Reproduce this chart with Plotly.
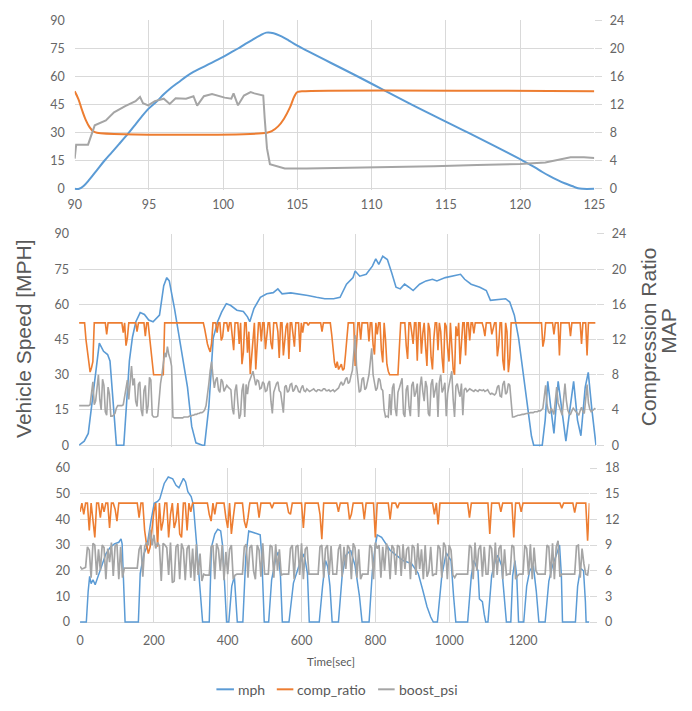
import numpy as np
import plotly.graph_objects as go

W, H = 692, 711

BLUE = "#5b9bd5"
ORANGE = "#ed7d31"
GRAY = "#a5a5a5"
GRID = "#d9d9d9"
TICK = "#666666"
TITLE = "#595959"
TICK_FONT = dict(family="Lato", size=12.5, color=TICK)

# ---------------- top panel: 90-125 s ----------------
top_mph_t = [90, 90.3, 90.6, 91, 91.5, 92, 92.5, 93, 93.65, 94, 94.5, 95, 95.5, 96, 96.5,
             97, 97.5, 98, 98.5, 99, 99.5, 100, 100.5, 101, 101.5, 102, 102.5, 102.9,
             103.4, 103.9, 104.4, 105, 109, 112.7, 116.5, 120.2, 121, 121.5, 122, 122.5,
             123, 123.5, 123.9, 124.2, 125]
top_mph = [0, 0, 1.5, 5, 10, 15, 19.5, 24, 30, 33.5, 38.5, 43, 46.5, 50.5, 54,
           57, 60, 62.5, 64.5, 66.5, 68.5, 70.5, 72.8, 75, 77.5, 79.8, 82, 83.5,
           83.2, 81.6, 79.4, 76.5, 60.3, 45, 30, 15, 11.5, 9, 6.8, 4.8,
           3, 1.5, 0.3, 0, 0]

top_comp_t = [90, 90.25, 90.5, 90.75, 91, 91.25, 91.5, 102.95, 103.3, 103.7, 104.1,
              104.5, 104.8, 105, 105.3, 125]
top_comp = [13.9, 12.8, 11.2, 9.8, 8.8, 8.2, 8.0, 8.0, 8.25, 8.9, 10.0,
            11.6, 13.2, 13.8, 13.9, 13.9]

top_boost_t = [90, 90.1, 90.9, 91.35, 92.1, 92.65, 93.4, 94.1, 94.4, 94.6, 94.95, 95.4,
               96, 96.4, 96.8, 97.5, 98, 98.25, 98.7, 99.25, 100.1, 100.55, 100.7, 101,
               101.4, 101.85, 102.1, 102.7, 102.8, 102.95, 103.15, 103.6, 104.15, 105.6,
               109.9, 111.3, 114.2, 117.1, 120, 121.7, 122.9, 123.4, 124.3, 125]
top_boost = [4.3, 6.3, 6.3, 9.05, 9.75, 10.9, 11.8, 12.5, 13.1, 12.2, 11.9, 12.5,
             12.85, 12.1, 12.9, 12.85, 13.2, 11.85, 13.2, 13.5, 13.0, 12.85, 13.6, 11.9,
             13.3, 13.8, 13.6, 13.3, 10.0, 5.8, 3.5, 3.25, 2.9, 2.9,
             3.0, 3.1, 3.2, 3.4, 3.55, 3.75, 4.3, 4.5, 4.5, 4.4]

# ---------------- middle panel: 0-562 s ----------------
mid_mph_t = [0, 5.6, 10, 16, 22, 26.6, 31, 33.6, 36, 39, 40.6, 48.6, 51, 54.7, 58, 61.7,
             66.4, 71, 75.7, 80.4, 87.4, 92, 95.3, 98, 103.7, 110.7, 117.8, 122.4, 127,
             134, 136.4, 141, 145.8, 150.5, 155, 160, 164.5, 171.5, 178.5, 183, 185.5,
             190, 197, 204, 211, 216, 220.6, 230, 239, 248.6, 258, 267, 276.6, 283.6,
             290.6, 297.7, 300, 305, 312, 318.7, 322.4, 325.7, 330, 335, 339.7, 344.4,
             349, 353.7, 358.4, 363, 370, 377, 384, 388.8, 398, 407.5, 414.5, 419, 426,
             435.5, 442.5, 447, 454, 463.5, 468, 473, 477.6, 482, 487, 491.6, 494, 503.3,
             506.5, 509.3, 512.6, 516, 520.6, 524.3, 529, 533.6, 537.4, 541.6, 545.3,
             550, 553.3, 557, 561.7]
mid_mph = [0, 1.7, 5, 25, 43.5, 40, 38.6, 35.9, 24.7, 8, 0, 0, 15, 36, 46, 52.6,
           56.5, 55.7, 53.3, 52.6, 55.4, 68, 71.4, 70, 58.2, 41.4, 24.7, 8, 1,
           0, 0, 16.3, 45.6, 52.6, 56.8, 60.3, 59.6, 57.5, 57, 54.7, 52.6,
           58.2, 63, 64.5, 65, 66.6, 64.5, 64.9, 64.5, 63.8, 63, 62.4, 62.4, 63,
           68.6, 71.4, 74.2, 72, 72.8, 76.3, 79.4, 77, 80.5, 79.1, 73.5, 67.3,
           66.6, 68.6, 67.3, 65.9, 68.6, 70, 70.7, 70, 71.4, 72.1, 72.8, 70.7, 68.6,
           67.3, 65.9, 61.7, 62.1, 62.4, 61, 55.4, 45.6, 31.7, 16.3, 3.8, 0, 0,
           10.7, 27.2, 16, 5, 27.2, 16, 1.7, 16, 27.2, 10.7, 4,
           24.7, 31, 16, 0]

MID_STEP = 1.5  # seconds between logged samples
mid_comp = [
    13.9, 13.9, 13.9, 13.9, 13.9, 12.0, 10.5, 9.0, 8.3, 8.8, 9.5, 13.9, 13.9, 13.9, 13.9, 13.9, 13.9, 13.9, 13.9, 13.9,       # 0
    12.6, 13.9, 13.9, 13.9, 13.9, 13.9, 13.9, 13.9, 13.9, 13.9, 13.9, 13.9, 12.8, 13.9, 11.3, 12.2, 13.9, 13.9, 13.9, 13.9,  # 30
    13.9, 13.9, 12.9, 13.9, 13.9, 13.9, 13.9, 13.9, 12.4, 13.9, 13.9, 12.2, 10.8, 9.0, 8.0, 8.0, 8.0, 8.0, 8.0, 8.0,         # 60
    8.0, 8.0, 13.9, 13.9, 13.9, 13.9, 13.9, 13.9, 13.9, 13.9, 13.9, 13.9, 13.9, 13.9, 13.9, 13.9, 13.9, 13.9, 13.9, 13.9,    # 90
    13.9, 13.9, 13.9, 13.9, 13.9, 13.9, 13.9, 13.9, 13.9, 13.9, 13.9, 13.2, 12.2, 11.5, 11.0, 10.6, 11.6, 13.9, 13.9, 13.9,  # 120
    12.8, 13.9, 13.9, 11.9, 12.3, 13.9, 13.9, 13.9, 12.9, 13.9, 13.9, 12.4, 10.8, 13.9, 13.9, 13.9, 11.5, 13.9, 9.2, 10.5,   # 150
    13.9, 13.9, 10.5, 12.9, 8.1, 9.8, 12.0, 13.9, 8.6, 11.0, 13.9, 13.9, 11.8, 13.9, 13.9, 10.9, 12.5, 13.9, 13.9, 11.6,     # 180
    10.9, 13.9, 13.9, 13.9, 12.9, 9.9, 13.9, 13.9, 10.2, 12.1, 13.5, 13.9, 9.8, 13.9, 13.9, 12.6, 11.2, 13.9, 13.9, 13.9,    # 210
    10.6, 13.9, 12.8, 13.9, 13.9, 13.9, 13.6, 13.9, 13.9, 13.9, 13.9, 13.9, 13.9, 13.9, 13.9, 13.9, 12.9, 13.9, 13.9, 13.9,  # 240
    13.9, 13.9, 13.9, 12.6, 11.0, 9.4, 8.8, 9.5, 8.6, 8.9, 9.2, 8.5, 8.7, 10.3, 12.5, 13.9, 13.9, 13.9, 13.9, 13.9,          # 270
    9.0, 12.2, 13.9, 13.9, 12.0, 13.9, 13.9, 13.9, 13.9, 13.9, 11.8, 13.9, 13.9, 11.4, 10.3, 13.9, 12.6, 13.9, 13.9, 10.8,   # 300
    9.4, 13.9, 12.0, 9.2, 8.4, 8.0, 8.0, 8.0, 8.0, 8.0, 8.0, 8.0, 11.0, 13.9, 13.9, 13.9, 13.9, 11.3, 9.8, 13.9,             # 330
    13.9, 12.8, 11.5, 13.9, 13.9, 9.6, 13.9, 13.9, 10.4, 12.7, 13.9, 11.2, 9.0, 13.9, 13.2, 10.0, 8.6, 12.1, 13.9, 13.9,     # 360
    10.8, 13.9, 12.9, 9.9, 8.2, 13.9, 13.5, 11.0, 9.5, 13.9, 11.8, 8.6, 8.0, 13.5, 12.4, 13.9, 9.2, 11.9, 13.9, 13.9,        # 390
    10.2, 13.9, 13.9, 11.9, 13.9, 13.9, 12.7, 13.9, 13.9, 13.9, 13.9, 13.9, 13.9, 13.3, 12.4, 13.9, 13.9, 13.9, 13.9, 12.6,  # 420
    13.2, 13.9, 13.9, 10.1, 11.3, 13.9, 13.9, 9.6, 8.5, 13.9, 12.9, 8.3, 9.8, 13.9, 13.9, 13.9, 13.9, 13.9, 13.9, 13.9,      # 450
    13.9, 13.9, 13.9, 13.9, 13.9, 13.9, 13.9, 13.9, 13.9, 13.9, 13.9, 13.9, 13.9, 13.9, 13.9, 13.9, 11.2, 12.0, 13.9, 13.9,  # 480
    13.9, 13.9, 13.9, 13.9, 12.6, 13.9, 13.9, 13.9, 10.2, 13.9, 13.9, 13.9, 13.9, 13.9, 13.9, 13.9, 12.4, 13.9, 13.9, 13.9,  # 510
    13.9, 13.9, 13.9, 13.9, 11.5, 13.9, 13.9, 13.9, 10.2, 13.9, 13.9, 13.9, 13.9, 13.9, 13.9,                                # 540
]
mid_boost = [
    4.5, 4.5, 4.5, 4.5, 4.5, 4.5, 4.5, 4.5, 4.6, 5.8, 7.2, 4.6, 5.0, 6.5, 8.0, 5.2, 4.0, 7.5, 6.8, 3.8,     # 0
    3.4, 6.6, 5.8, 3.3, 3.3, 3.4, 3.6, 4.2, 4.5, 4.5, 4.5, 4.5, 4.6, 5.5, 6.5, 7.4, 5.2, 7.8, 9.0, 6.8,     # 30
    7.6, 5.0, 4.4, 6.9, 7.2, 4.0, 3.3, 6.2, 6.8, 3.6, 4.5, 7.7, 7.4, 3.4, 3.2, 3.2, 3.2, 3.3, 5.5, 7.0,     # 60
    8.0, 9.4, 10.5, 10.0, 11.2, 10.3, 9.8, 9.0, 3.2, 3.1, 3.1, 3.1, 3.1, 3.1, 3.1, 3.1, 3.2, 3.2, 3.2, 3.2, # 90
    3.3, 3.3, 3.4, 3.4, 3.5, 3.5, 3.6, 3.6, 3.7, 3.7, 3.8, 4.0, 4.5, 5.6, 7.0, 8.5, 9.5, 7.8, 6.5, 7.4,     # 120
    7.7, 6.3, 6.0, 7.5, 7.2, 6.1, 6.5, 6.8, 6.6, 6.4, 6.3, 4.2, 3.5, 6.2, 6.9, 4.8, 3.0, 3.5, 6.2, 7.0,     # 150
    3.2, 6.9, 5.8, 7.1, 7.5, 8.0, 8.4, 7.6, 6.8, 7.4, 7.3, 6.4, 6.5, 7.2, 7.0, 6.1, 6.2, 7.0, 7.3, 5.0,     # 180
    3.6, 6.0, 6.5, 7.0, 7.2, 6.2, 6.0, 4.5, 3.7, 6.6, 6.8, 6.0, 6.2, 6.9, 7.0, 6.1, 6.3, 6.8, 6.6, 6.1,     # 210
    6.0, 6.5, 6.8, 6.2, 6.1, 6.4, 6.3, 6.1, 6.2, 6.3, 6.4, 6.2, 6.1, 6.3, 6.3, 6.2, 6.2, 6.4, 6.4, 6.2,     # 240
    6.2, 6.3, 6.1, 6.2, 6.3, 6.1, 6.2, 6.4, 6.5, 6.9, 7.2, 6.8, 7.0, 7.5, 7.7, 7.0, 7.2, 7.9, 8.5, 10.5,    # 270
    12.5, 9.0, 7.0, 6.0, 6.2, 7.5, 7.7, 6.3, 6.5, 7.2, 8.0, 9.5, 11.0, 8.0, 7.2, 6.2, 6.5, 7.6, 7.4, 6.4,   # 300
    6.2, 4.0, 3.2, 3.3, 3.2, 5.8, 3.4, 6.5, 7.0, 4.2, 3.3, 6.0, 6.5, 7.2, 7.6, 3.6, 3.2, 6.3, 6.8, 4.4,     # 330
    3.3, 6.8, 7.2, 5.5, 6.0, 7.0, 3.2, 6.6, 7.8, 6.1, 5.0, 7.3, 6.6, 3.6, 3.3, 6.9, 7.5, 5.4, 6.2, 7.1,     # 360
    3.2, 7.2, 8.0, 6.0, 6.4, 7.1, 3.3, 5.9, 6.8, 7.6, 8.4, 5.2, 3.2, 6.7, 7.0, 6.1, 5.5, 7.0, 3.4, 6.3,     # 390
    6.5, 6.1, 6.2, 6.4, 6.3, 6.2, 6.1, 6.3, 6.2, 6.1, 6.3, 6.2, 6.2, 6.3, 6.1, 6.2, 6.3, 6.0, 5.8, 5.9,     # 420
    5.8, 5.7, 5.9, 6.6, 6.8, 5.6, 5.5, 6.9, 7.3, 5.8, 6.0, 7.0, 6.8, 4.5, 3.2, 3.2, 3.3, 3.3, 3.4, 3.4,     # 450
    3.5, 3.5, 3.5, 3.6, 3.6, 3.6, 3.7, 3.7, 3.7, 3.7, 3.8, 3.8, 3.8, 3.9, 3.9, 4.0, 4.2, 5.5, 6.8, 4.6,     # 480
    3.8, 3.6, 4.2, 3.9, 3.5, 5.0, 6.6, 4.8, 4.3, 3.7, 3.4, 5.2, 7.0, 5.1, 4.0, 3.6, 3.5, 3.9, 4.2, 4.0,     # 510
    3.8, 3.6, 3.4, 3.9, 4.3, 3.8, 3.6, 5.2, 6.9, 4.8, 4.1, 3.8, 3.9, 4.0, 4.2,                              # 540
]

# ---------------- bottom panel: 0-1380 s ----------------
bot_mph_t = [0, 17, 22, 26, 30, 35, 41, 47, 58, 70, 82, 93, 105, 111, 114, 119, 122, 158,
             163, 173, 181, 192, 201, 210, 216, 228, 239, 251, 260, 268, 274, 280, 286,
             292, 301, 307, 315, 324, 332, 350, 356, 365, 373, 381, 386, 391, 397, 403,
             411, 418, 426, 441, 449, 457, 467, 478, 488, 492, 499, 511, 519, 531, 537,
             543, 548, 566, 578, 595, 607, 616, 621, 648, 657, 665, 671, 677, 683, 700,
             710, 720, 733, 745, 757, 764, 783, 792, 800, 805, 817, 828, 840, 852, 875,
             898, 916, 928, 940, 950, 957, 968, 980, 992, 1005, 1012, 1018, 1050, 1060,
             1067, 1078, 1082, 1090, 1095, 1099, 1105, 1115, 1125, 1132, 1142, 1150,
             1155, 1167, 1172, 1178, 1183, 1188, 1202, 1210, 1218, 1228, 1236, 1243,
             1260, 1270, 1280, 1290, 1299, 1304, 1307, 1342, 1348, 1356, 1364, 1369,
             1371, 1380]
bot_mph = [0, 0, 12, 17.8, 15, 16.5, 14.6, 17, 21.6, 26.6, 29.2, 30.5, 31.1, 32.4, 30.5, 8, 0, 0,
           19, 26.6, 29.2, 39.3, 46.3, 47, 48, 54, 56.5, 55.8, 53.3, 52.3, 54, 56, 54.6,
           50.8, 48.9, 45.7, 31.7, 12.7, 0, 0, 29.2, 34.3, 36.2, 35.5, 30, 16.5, 0, 0,
           14, 17.8, 0, 0, 25.4, 35.5, 34.9, 34.5, 34, 26.6, 0, 0, 16.5, 25.4, 27.3,
           17.8, 0, 0, 15.2, 22.8, 26.6, 19, 0, 0, 14, 24, 21.6, 14, 0, 0,
           18, 26, 28, 22, 10, 0, 0, 20, 30, 34, 33, 30.5, 28, 26.6, 24,
           22.8, 19, 12.7, 6, 2, 0, 0, 18, 27, 24, 10, 0, 0, 18,
           24, 20, 9, 8, 3, 0, 0, 18, 24, 26, 22, 10,
           0, 0, 18, 24, 18, 0, 0, 14, 20, 22, 12, 0,
           0, 16, 22, 26, 30, 18, 0, 0, 14, 21, 20, 8,
           0, 0]

BOT_STEP = 5  # seconds between logged samples
bot_boost = [
    6.5, 6.2, 6.3, 6.4, 8.8, 8.4, 5.2, 9.2, 9.0, 5.5,    # 0-45
    8.5, 6.0, 9.0, 8.7, 5.0, 8.6, 7.0, 9.3, 5.4, 8.9,    # 50-95
    9.1, 5.0, 8.8, 5.2, 6.3, 6.3, 6.3, 6.3, 6.3, 6.3,    # 100-145
    6.3, 6.3, 8.5, 9.0, 5.3, 8.8, 9.3, 9.0, 10.8, 9.0,   # 150-195
    10.2, 8.6, 9.3, 8.9, 4.8, 9.2, 9.0, 8.7, 5.5, 9.3,   # 200-245
    4.6, 4.8, 8.8, 9.1, 5.0, 9.2, 8.5, 4.9, 8.6, 9.0,    # 250-295
    5.2, 8.6, 4.8, 9.1, 5.5, 8.0, 4.8, 5.6, 5.5, 5.5,    # 300-345
    5.5, 8.8, 9.0, 5.0, 9.2, 8.5, 6.0, 9.0, 4.9, 8.2,    # 350-395
    5.6, 8.5, 9.0, 5.0, 5.5, 5.6, 5.6, 5.6, 5.6, 8.8,    # 400-445
    9.1, 5.2, 8.7, 9.0, 6.0, 5.0, 9.0, 8.4, 5.3, 9.2,    # 450-495
    5.6, 5.6, 5.6, 9.0, 8.8, 5.2, 9.1, 6.0, 8.5, 5.5,    # 500-545
    5.6, 5.6, 5.6, 5.6, 8.6, 9.0, 5.0, 8.8, 9.0, 5.5,    # 550-595
    9.2, 5.0, 8.5, 8.8, 5.6, 5.6, 5.6, 5.6, 5.6, 5.6,    # 600-645
    8.8, 9.0, 5.2, 8.6, 9.0, 5.5, 8.9, 5.6, 5.6, 5.6,    # 650-695
    8.5, 9.1, 5.3, 8.8, 6.2, 9.0, 8.6, 5.0, 9.2, 8.7,    # 700-745
    5.2, 8.5, 5.0, 5.6, 5.6, 5.6, 5.6, 9.0, 8.7, 5.0,    # 750-795
    9.3, 8.6, 9.0, 5.2, 8.8, 6.0, 9.2, 8.4, 5.0, 9.0,    # 800-845
    8.6, 5.5, 9.0, 8.8, 5.4, 9.1, 6.2, 8.5, 8.8, 5.0,    # 850-895
    9.0, 8.7, 5.5, 9.2, 6.2, 8.5, 5.0, 9.0, 5.3, 6.0,    # 900-945
    8.8, 5.4, 5.6, 5.6, 9.0, 8.6, 5.2, 9.3, 8.8, 5.0,    # 950-995
    9.0, 8.4, 5.5, 5.2, 5.6, 5.6, 5.6, 5.6, 5.6, 5.6,    # 1000-1045
    5.6, 9.0, 8.7, 5.0, 9.3, 6.0, 8.5, 9.0, 5.3, 8.8,    # 1050-1095
    5.6, 5.6, 9.0, 8.6, 5.2, 9.3, 5.5, 8.6, 9.0, 5.0,    # 1100-1145
    8.5, 5.5, 5.6, 5.6, 9.0, 8.8, 5.0, 5.4, 5.6, 5.6,    # 1150-1195
    5.6, 9.0, 8.6, 5.5, 9.1, 5.0, 8.7, 6.0, 5.6, 5.6,    # 1200-1245
    5.6, 5.6, 5.6, 9.0, 8.8, 5.2, 9.2, 5.0, 8.8, 9.5,    # 1250-1295
    5.3, 5.6, 5.6, 5.6, 5.6, 5.6, 5.6, 5.6, 5.6, 8.9,    # 1300-1345
    9.0, 5.2, 8.6, 6.8, 5.6, 5.5, 6.8,                   # 1350-1380
]
# comp_ratio holds 13.9 except at the logged dips below
BOT_COMP_BASE = 13.9
bot_comp_dip_t = [0, 10, 25, 35, 40, 55, 65, 80, 95, 100, 160, 175, 180, 185, 190, 195, 200,
                  210, 220, 225, 240, 245, 255, 260, 270, 275, 290, 300, 350, 355, 365, 395,
                  400, 410, 415, 445, 450, 455, 485, 520, 565, 570, 605, 650, 655, 700, 730,
                  735, 770, 800, 840, 860, 960, 970, 1055, 1110, 1140, 1175, 1195, 1305,
                  1340, 1375]
bot_comp_dip = [12.9, 12.6, 10.7, 12.2, 9.9, 12.2, 12.9, 11.0, 13.2, 11.8, 12.2, 10.7, 9.1, 8.0,
                8.8, 10.7, 12.9, 8.8, 10.7, 11.8, 9.9, 12.6, 11.0, 11.8, 10.3, 9.9, 10.7, 12.9,
                12.6, 11.8, 12.6, 12.2, 11.0, 10.3, 12.2, 11.8, 11.0, 12.2, 12.2, 13.3, 12.8,
                12.6, 11.0, 12.6, 9.7, 12.9, 12.0, 12.6, 12.0, 9.9, 12.0, 13.3, 12.6, 11.4,
                12.2, 10.3, 12.9, 9.9, 12.9, 13.3, 12.8, 9.5]

# ---------------- assemble sampled series ----------------
mid_t = np.arange(len(mid_comp)) * MID_STEP
bot_t = np.arange(len(bot_boost)) * BOT_STEP
bot_comp = np.full(len(bot_t), BOT_COMP_BASE)
for t, v in zip(bot_comp_dip_t, bot_comp_dip):
    bot_comp[t // BOT_STEP] = v


def xdom(left, right):
    return [left / W, right / W]


def ydom(top, bottom):
    return [1 - bottom / H, 1 - top / H]


fig = go.Figure()


def add_panel(xa, ya_left, ya_right, mph_x, mph_y, comp_x, comp_y, boost_x, boost_y,
              widths, shape):
    fig.add_trace(go.Scatter(x=mph_x, y=mph_y, mode="lines", name="mph",
                             line=dict(color=BLUE, width=widths[0], shape=shape),
                             xaxis=xa, yaxis=ya_left, showlegend=False))
    fig.add_trace(go.Scatter(x=comp_x, y=comp_y, mode="lines", name="comp_ratio",
                             line=dict(color=ORANGE, width=widths[1], shape=shape),
                             xaxis=xa, yaxis=ya_right, showlegend=False))
    fig.add_trace(go.Scatter(x=boost_x, y=boost_y, mode="lines", name="boost_psi",
                             line=dict(color=GRAY, width=widths[2]),
                             xaxis=xa, yaxis=ya_right, showlegend=False))


add_panel("x", "y", "y2", top_mph_t, top_mph, top_comp_t, top_comp, top_boost_t, top_boost,
          (2.0, 2.0, 2.0), "spline")
add_panel("x2", "y3", "y4", mid_mph_t, mid_mph, mid_t, mid_comp, mid_t, mid_boost,
          (1.6, 1.6, 1.6), "linear")
add_panel("x3", "y5", "y6", bot_mph_t, bot_mph, bot_t, bot_comp, bot_t, bot_boost,
          (1.5, 1.6, 1.7), "linear")


def x_axis(dom, rng, dtick, anchor, labels=True, standoff=6):
    return dict(domain=dom, range=rng, dtick=dtick, tick0=0, anchor=anchor,
                showgrid=True, gridcolor=GRID, gridwidth=1, zeroline=False,
                showline=False, ticks="", showticklabels=labels,
                tickfont=TICK_FONT, ticklabelstandoff=standoff)


def y_left(dom, rng, dtick, anchor):
    return dict(domain=dom, range=rng, dtick=dtick, tick0=0, anchor=anchor,
                showgrid=True, gridcolor=GRID, gridwidth=1, zeroline=False,
                showline=False, ticks="", tickfont=TICK_FONT, ticklabelstandoff=9)


def y_right(over, rng, dtick, anchor):
    return dict(overlaying=over, side="right", range=rng, dtick=dtick, tick0=0,
                anchor=anchor, showgrid=False, zeroline=False, showline=False,
                ticks="outside", ticklen=7, tickcolor=GRID, tickwidth=1,
                tickfont=TICK_FONT, ticklabelstandoff=5)


top_y = ydom(12.7, 185.6)
mid_y = ydom(230.5, 447.4)
bot_y = ydom(469.3, 627.5)

fig.update_layout(
    width=W, height=H,
    margin=dict(l=0, r=0, t=0, b=0),
    paper_bgcolor="white", plot_bgcolor="white",
    showlegend=False,
    xaxis=x_axis(xdom(69.5, 603), [90, 125], 5, "y", standoff=6),
    yaxis=y_left(top_y, [-0.6, 90], 15, "x"),
    yaxis2=y_right("y", [-0.16, 24], 4, "x"),
    xaxis2=x_axis(xdom(74, 605), [0, 562], 100, "y3", labels=False),
    yaxis3=y_left(mid_y, [-0.6, 90], 15, "x2"),
    yaxis4=y_right("y3", [-0.16, 24], 4, "x2"),
    xaxis3=x_axis(xdom(75, 598), [0, 1380], 200, "y5", standoff=8),
    yaxis5=y_left(bot_y, [-0.4, 60], 10, "x3"),
    yaxis6=y_right("y5", [-0.12, 18], 3, "x3"),
)

# axis titles
fig.add_annotation(text="Vehicle Speed [MPH]", x=17 / W, y=1 - 338 / H, xref="paper", yref="paper",
                   textangle=-90, showarrow=False, xanchor="center", yanchor="middle",
                   font=dict(family="Liberation Sans", size=21, color=TITLE))
fig.add_annotation(text="Compression Ratio", x=659 / W, y=1 - 335 / H, xref="paper", yref="paper",
                   textangle=-90, showarrow=False, xanchor="center", yanchor="middle",
                   font=dict(family="Liberation Sans", size=21, color=TITLE))
fig.add_annotation(text="MAP", x=679 / W, y=1 - 329 / H, xref="paper", yref="paper",
                   textangle=-90, showarrow=False, xanchor="center", yanchor="middle",
                   font=dict(family="Liberation Sans", size=21, color=TITLE))
fig.add_annotation(text="Time[sec]", x=333 / W, y=1 - 667 / H, xref="paper", yref="paper",
                   showarrow=False, xanchor="center", yanchor="middle",
                   font=dict(family="Lato", size=11.5, color=TITLE))

# legend row
legend_items = [("mph", BLUE, 215, 233), ("comp_ratio", ORANGE, 277, 294), ("boost_psi", GRAY, 381, 398)]
ly = 1 - 695 / H
for label, color, x0, x1 in legend_items:
    fig.add_shape(type="line", xref="paper", yref="paper", x0=x0 / W, x1=x1 / W, y0=ly, y1=ly,
                  line=dict(color=color, width=2))
    fig.add_annotation(text=label, x=(x1 + 2) / W, y=ly, xref="paper", yref="paper",
                       showarrow=False, xanchor="left", yanchor="middle",
                       font=dict(family="Lato", size=14, color=TITLE))

fig.write_html("out.html")
